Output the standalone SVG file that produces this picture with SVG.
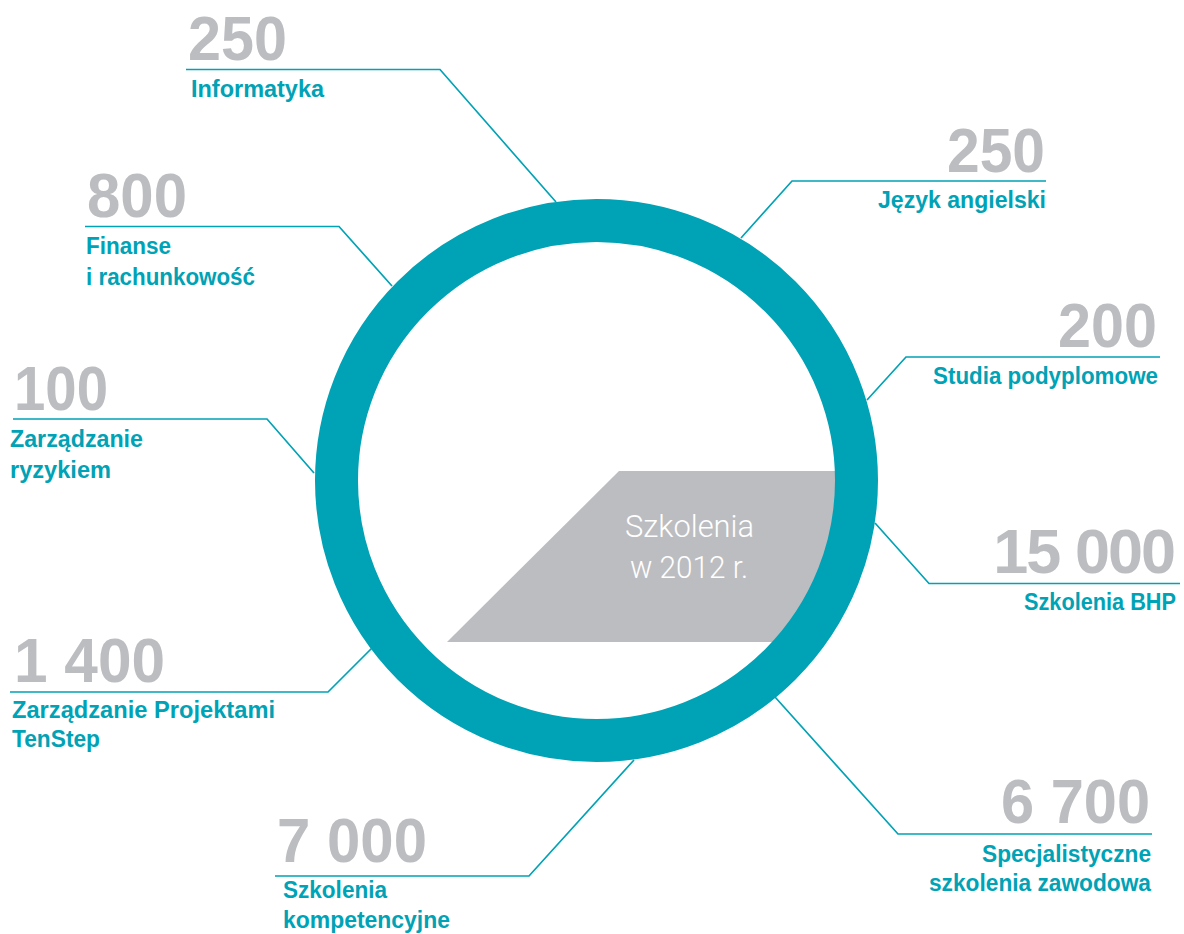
<svg xmlns="http://www.w3.org/2000/svg" width="1184" height="934" viewBox="0 0 1184 934">
<style>
.num{font-family:"Liberation Sans",Arial,sans-serif;font-weight:700;font-size:63px;fill:#BCBDC0;}
.lbl{font-family:"Liberation Sans",Arial,sans-serif;font-weight:700;font-size:23px;fill:#00A2B5;}
.ctr{font-family:Roboto,"Liberation Sans",sans-serif;font-weight:300;font-size:32px;fill:#FFFFFF;}
.conn{fill:none;stroke:#00A2B5;stroke-width:1.7;}
.end{text-anchor:end;}
</style>
<defs>
<clipPath id="inner"><circle cx="596.5" cy="480.5" r="245"/></clipPath>
</defs>
<rect width="1184" height="934" fill="#FFFFFF"/>
<g id="connectors">
<polyline class="conn" points="186,69.5 440,69.5 556,202"/>
<polyline class="conn" points="85,226.5 339,226.5 392,286"/>
<polyline class="conn" points="13,419 267,419 314,473"/>
<polyline class="conn" points="1046,181 792,181 741,238"/>
<polyline class="conn" points="1160,357 906,357 867,400"/>
<polyline class="conn" points="1180,583.5 929,583.5 875,523"/>
<polyline class="conn" points="1152,834 898,834 775,697"/>
<polyline class="conn" points="10,692 328,692 373,647"/>
<polyline class="conn" points="275,876 529,876 634,760"/>
</g>
<g id="center">
<polygon points="447,642 619,471 900,471 900,642" fill="#BCBDC0" clip-path="url(#inner)"/>
<circle cx="596.5" cy="480.5" r="260" fill="none" stroke="#00A2B5" stroke-width="43"/>
<text class="ctr" x="689.5" y="537" text-anchor="middle" textLength="129" lengthAdjust="spacingAndGlyphs">Szkolenia</text>
<text class="ctr" x="689" y="578" text-anchor="middle" textLength="118" lengthAdjust="spacingAndGlyphs">w 2012 r.</text>
</g>
<g id="informatyka">
<text class="num" x="188" y="60" textLength="99" lengthAdjust="spacingAndGlyphs">250</text>
<text class="lbl" x="191" y="97" textLength="133" lengthAdjust="spacingAndGlyphs">Informatyka</text>
</g>
<g id="finanse">
<text class="num" x="87" y="217" textLength="100" lengthAdjust="spacingAndGlyphs">800</text>
<text class="lbl" x="86" y="254" textLength="85" lengthAdjust="spacingAndGlyphs">Finanse</text>
<text class="lbl" x="86" y="285" textLength="169" lengthAdjust="spacingAndGlyphs">i rachunkowość</text>
</g>
<g id="ryzyko">
<text class="num" x="14" y="410" textLength="94" lengthAdjust="spacingAndGlyphs">100</text>
<text class="lbl" x="10" y="447" textLength="133" lengthAdjust="spacingAndGlyphs">Zarządzanie</text>
<text class="lbl" x="10" y="478" textLength="101" lengthAdjust="spacingAndGlyphs">ryzykiem</text>
</g>
<g id="jezyk-angielski">
<text class="num end" x="1045" y="172" textLength="98" lengthAdjust="spacingAndGlyphs">250</text>
<text class="lbl end" x="1046" y="208" textLength="168" lengthAdjust="spacingAndGlyphs">Język angielski</text>
</g>
<g id="studia-podyplomowe">
<text class="num end" x="1157" y="347" textLength="99" lengthAdjust="spacingAndGlyphs">200</text>
<text class="lbl end" x="1158" y="384" textLength="225" lengthAdjust="spacingAndGlyphs">Studia podyplomowe</text>
</g>
<g id="szkolenia-bhp">
<text class="num end" x="1174" y="573" font-size="60" letter-spacing="-2">15 000</text>
<text class="lbl end" x="1176" y="610" textLength="152" lengthAdjust="spacingAndGlyphs">Szkolenia BHP</text>
</g>
<g id="specjalistyczne">
<text class="num end" x="1150" y="823" textLength="149" lengthAdjust="spacingAndGlyphs">6 700</text>
<text class="lbl end" x="1151" y="862" textLength="169" lengthAdjust="spacingAndGlyphs">Specjalistyczne</text>
<text class="lbl end" x="1151" y="891" textLength="222" lengthAdjust="spacingAndGlyphs">szkolenia zawodowa</text>
</g>
<g id="tenstep">
<text class="num" x="14" y="682" textLength="151" lengthAdjust="spacingAndGlyphs">1 400</text>
<text class="lbl" x="12" y="718" textLength="263" lengthAdjust="spacingAndGlyphs">Zarządzanie Projektami</text>
<text class="lbl" x="12" y="747" textLength="88" lengthAdjust="spacingAndGlyphs">TenStep</text>
</g>
<g id="kompetencyjne">
<text class="num" x="277" y="862" textLength="150" lengthAdjust="spacingAndGlyphs">7 000</text>
<text class="lbl" x="283" y="898" textLength="104" lengthAdjust="spacingAndGlyphs">Szkolenia</text>
<text class="lbl" x="283" y="928" textLength="167" lengthAdjust="spacingAndGlyphs">kompetencyjne</text>
</g>
</svg>
